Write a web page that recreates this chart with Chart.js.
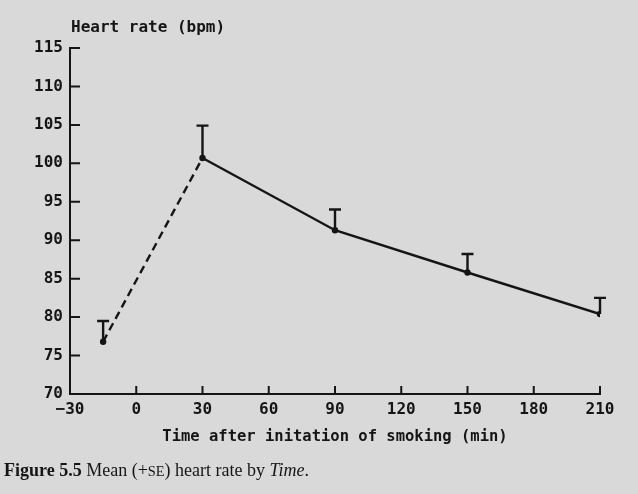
<!DOCTYPE html>
<html>
<head>
<meta charset="utf-8">
<script src="https://cdn.jsdelivr.net/npm/chart.js@4"></script>
<style>
  html, body { margin: 0; padding: 0; background: #d9d9d9; }
  #wrap { position: relative; width: 638px; height: 494px; overflow: hidden; }
  #caption {
    position: absolute; left: 4px; top: 460px;
    font-family: "Liberation Serif", serif; font-size: 18px;
    color: #161616; white-space: nowrap;
  }
  .sc { font-size: 0.8em; }
</style>
</head>
<body>
<div id="wrap">
  <canvas id="hrChart" width="638" height="494"></canvas>
  <div id="caption"><b>Figure 5.5</b> Mean (+<span class="sc">SE</span>) heart rate by <i>Time</i>.</div>
</div>
<script>
// values
var times = [-15, 30, 90, 150, 210];          // min after start of smoking
var meanRate = [76.8, 100.7, 91.3, 85.8, 80.4]; // bpm
var seRate = [2.7, 4.2, 2.7, 2.4, 2.1];         // +SE
var xTicks = [-30, 0, 30, 60, 90, 120, 150, 180, 210];
var yTicks = [70, 75, 80, 85, 90, 95, 100, 105, 110, 115];

var ink = "#151515";
var monoFont = "'DejaVu Sans Mono', monospace";

// ticks point into the plot, error bars go up only, y title sits above the axis
var paperPlugin = {
    id: "paper",
    afterDraw: function (chart) {
        var ctx = chart.ctx;
        var xs = chart.scales.x, ys = chart.scales.y, area = chart.chartArea;
        ctx.save();
        ctx.strokeStyle = ink;
        ctx.lineWidth = 2;
        ctx.beginPath();
        xs.ticks.forEach(function (t) {
            var px = xs.getPixelForValue(t.value);
            ctx.moveTo(px, area.bottom);
            ctx.lineTo(px, area.bottom - 8);
        });
        ys.ticks.forEach(function (t) {
            var py = ys.getPixelForValue(t.value);
            ctx.moveTo(area.left, py);
            ctx.lineTo(area.left + 10, py);
        });
        ctx.stroke();

        ctx.lineWidth = 2.4;
        ctx.beginPath();
        times.forEach(function (t, i) {
            var px = xs.getPixelForValue(t);
            var y0 = ys.getPixelForValue(meanRate[i]);
            var y1 = ys.getPixelForValue(meanRate[i] + seRate[i]);
            ctx.moveTo(px, y0);
            ctx.lineTo(px, y1);
            ctx.moveTo(px - 6, y1);
            ctx.lineTo(px + 6, y1);
        });
        ctx.stroke();

        ctx.fillStyle = ink;
        ctx.font = "bold 16px " + monoFont;
        ctx.textAlign = "left";
        ctx.textBaseline = "alphabetic";
        ctx.fillText("Heart rate (bpm)", area.left + 1, area.top - 16);
        ctx.restore();
    }
};

var ctx = document.getElementById("hrChart").getContext("2d");
var hrChart = new Chart(ctx, {
    type: "line",
    data: {
        datasets: [{
            label: "Heart rate",
            data: times.map(function (t, i) { return { x: t, y: meanRate[i] }; }),
            borderColor: ink,
            borderWidth: 2.4,
            pointRadius: 2,
            pointBackgroundColor: ink,
            pointBorderColor: ink,
            fill: false,
            tension: 0,
            segment: {
                borderDash: function (c) { return c.p0DataIndex === 0 ? [8, 5] : undefined; }
            }
        }]
    },
    options: {
        responsive: false,
        animation: false,
        layout: { padding: { left: 0, top: 48, right: 38, bottom: 38 } },
        plugins: { legend: { display: false }, tooltip: { enabled: false } },
        scales: {
            x: {
                type: "linear",
                min: -30,
                max: 210,
                afterBuildTicks: function (s) { s.ticks = xTicks.map(function (v) { return { value: v }; }); },
                afterFit: function (s) { s.height = 62; },
                grid: { display: false, drawTicks: false },
                border: { display: true, color: ink, width: 2 },
                ticks: {
                    color: ink,
                    padding: 6,
                    maxRotation: 0,
                    font: { family: monoFont, size: 16, weight: "bold" },
                    callback: function (v) { return v < 0 ? "\u2212" + Math.abs(v) : String(v); }
                },
                title: {
                    display: true,
                    text: "Time after initation of smoking (min)",
                    color: ink,
                    font: { family: monoFont, size: 15.5, weight: "bold" },
                    padding: { top: 0, bottom: 10 }
                }
            },
            y: {
                min: 70,
                max: 115,
                afterBuildTicks: function (s) { s.ticks = yTicks.map(function (v) { return { value: v }; }); },
                afterFit: function (s) { s.width = 70; },
                grid: { display: false, drawTicks: false },
                border: { display: true, color: ink, width: 2 },
                ticks: {
                    color: ink,
                    padding: 7,
                    font: { family: monoFont, size: 16, weight: "bold" }
                }
            }
        }
    },
    plugins: [paperPlugin]
});
</script>
</body>
</html>
